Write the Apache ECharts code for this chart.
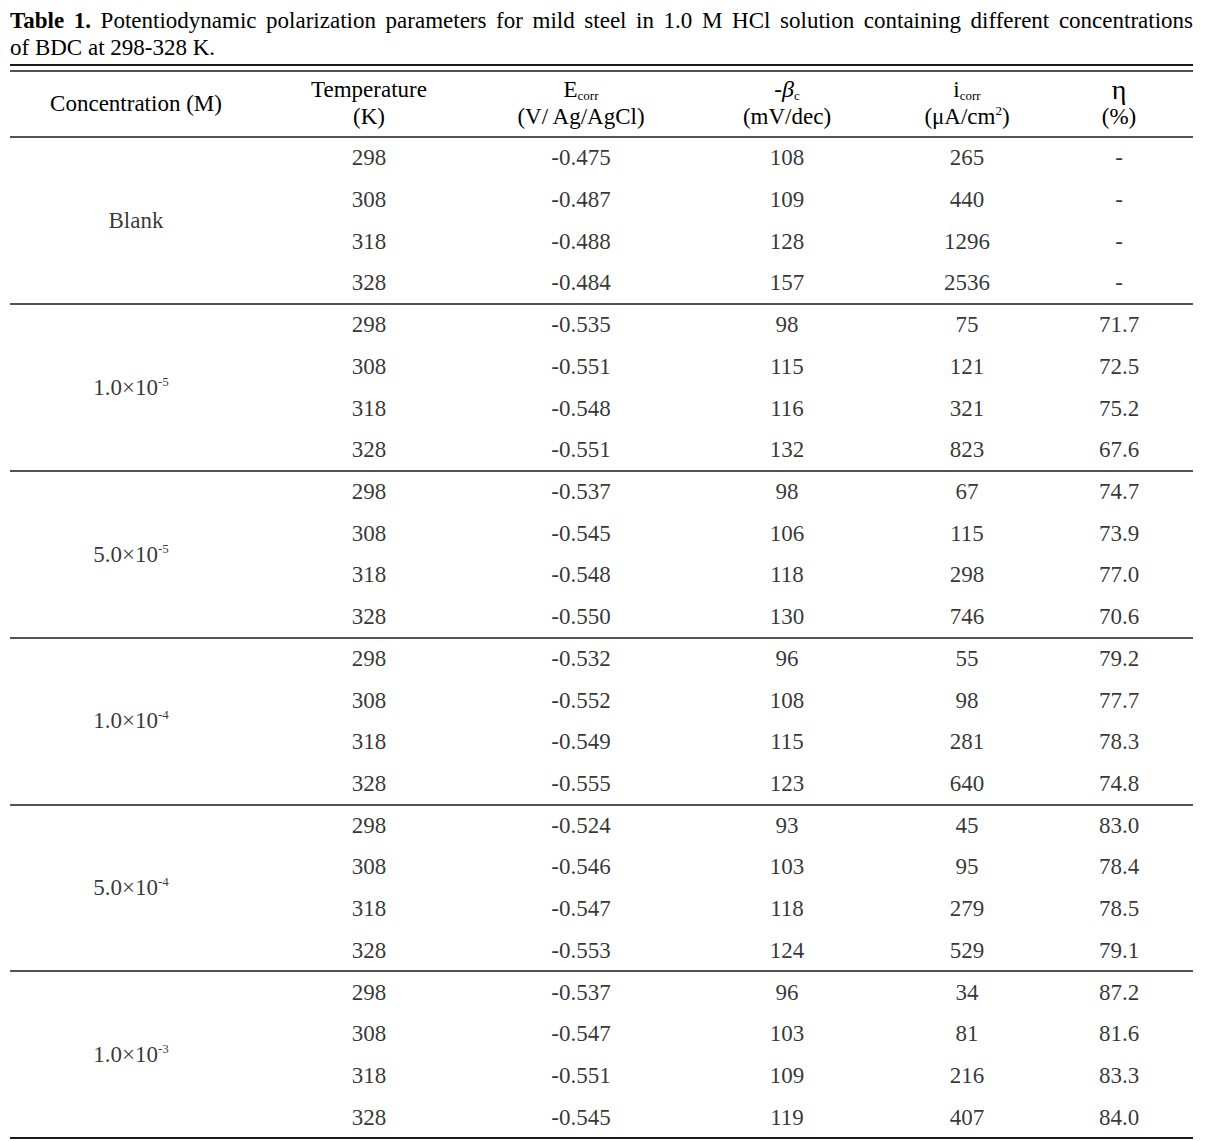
<!DOCTYPE html>
<html><head><meta charset="utf-8">
<script src="https://cdn.jsdelivr.net/npm/echarts@6/dist/echarts.min.js"></script>
<style>html,body{margin:0;padding:0;background:#fff}#c{width:1211px;height:1141px}</style>
</head><body><div id="c"></div>
<script>
// ---- data ----
const concentrations = ['Blank', '1.0×10^-5', '5.0×10^-5', '1.0×10^-4', '5.0×10^-4', '1.0×10^-3'];
const temperatures = [298, 308, 318, 328];
const ecorr = [
  [-0.475, -0.487, -0.488, -0.484],
  [-0.535, -0.551, -0.548, -0.551],
  [-0.537, -0.545, -0.548, -0.550],
  [-0.532, -0.552, -0.549, -0.555],
  [-0.524, -0.546, -0.547, -0.553],
  [-0.537, -0.547, -0.551, -0.545]
];
const betaC = [
  [108, 109, 128, 157],
  [98, 115, 116, 132],
  [98, 106, 118, 130],
  [96, 108, 115, 123],
  [93, 103, 118, 124],
  [96, 103, 109, 119]
];
const icorr = [
  [265, 440, 1296, 2536],
  [75, 121, 321, 823],
  [67, 115, 298, 746],
  [55, 98, 281, 640],
  [45, 95, 279, 529],
  [34, 81, 216, 407]
];
const eta = [
  [null, null, null, null],
  [71.7, 72.5, 75.2, 67.6],
  [74.7, 73.9, 77.0, 70.6],
  [79.2, 77.7, 78.3, 74.8],
  [83.0, 78.4, 78.5, 79.1],
  [87.2, 81.6, 83.3, 84.0]
];
const titleBold = 'Table 1.';
const titleLine1 = 'Potentiodynamic polarization parameters for mild steel in 1.0 M HCl solution containing different concentrations';
const titleLine2 = 'of BDC at 298-328 K.';

// ---- layout ----
const FONT = "'Liberation Serif', 'Times New Roman', serif";
const FS = 23;
const COL_X = [136, 369, 581, 787, 967, 1119];
const X0 = 10, X1 = 1193;
const INK = '#000';
const RULE = '#1a1a1a';

function concRich(s) {
  if (s.indexOf('^') < 0) return s;
  const p = s.split('^');
  return p[0] + '{sup|' + p[1] + '}';
}

const nG = concentrations.length, nT = temperatures.length;
function colData(fn) {
  const d = [];
  for (let g = 0; g < nG; g++) for (let t = 0; t < nT; t++) d.push(fn(g, t, g * nT + t));
  return d;
}

const cols = [
  concentrations.map((c, g) => [COL_X[0] - (c.indexOf('^') >= 0 ? 5 : 0), g * nT + (nT - 1) / 2, concRich(c)]),
  colData((g, t, r) => [COL_X[1], r, String(temperatures[t])]),
  colData((g, t, r) => [COL_X[2], r, ecorr[g][t].toFixed(3)]),
  colData((g, t, r) => [COL_X[3], r, String(betaC[g][t])]),
  colData((g, t, r) => [COL_X[4], r, String(icorr[g][t])]),
  colData((g, t, r) => [COL_X[5], r, eta[g][t] == null ? '-' : eta[g][t].toFixed(1)])
];

const richStyles = {
  sup: { fontSize: 13, lineHeight: 13, verticalAlign: 'top', fontFamily: FONT, color: INK },
  sub: { fontSize: 13, lineHeight: 13, verticalAlign: 'bottom', fontFamily: FONT, color: INK },
  it: { fontStyle: 'italic', fontSize: 24, lineHeight: 25, fontFamily: FONT, color: INK },
  b: { fontWeight: 'bold', fontSize: FS, lineHeight: 25, fontFamily: FONT, color: INK },
  big: { fontSize: 28, lineHeight: 25, fontFamily: FONT, color: INK }
};

const sepLines = [];
for (let g = 1; g <= nG; g++) sepLines.push({ yAxis: g * nT - 0.5, lineStyle: { width: g === nG ? 2 : 1.5 } });

const series = cols.map((data, i) => ({
  type: 'scatter',
  data: data,
  symbolSize: 1,
  itemStyle: { color: 'rgba(0,0,0,0)' },
  silent: true,
  label: {
    show: true,
    position: 'inside',
    formatter: p => p.value[2],
    fontFamily: FONT,
    fontSize: FS,
    lineHeight: 25,
    color: INK,
    rich: richStyles
  },
  markLine: i === 1 ? {
    silent: true,
    symbol: ['none', 'none'],
    label: { show: false },
    lineStyle: { color: RULE, type: 'solid', width: 1.5 },
    data: sepLines
  } : undefined
}));

function txt(x, y, text, align, bold) {
  return {
    type: 'text', x: x, y: y, silent: true,
    style: {
      text: text, align: align || 'center', verticalAlign: 'middle',
      fontSize: FS, fontFamily: FONT, fontWeight: bold ? 'bold' : 'normal', lineHeight: 25,
      fill: INK, rich: richStyles
    }
  };
}
function hline(y, w) {
  return { type: 'line', silent: true, shape: { x1: X0, y1: y, x2: X1, y2: y }, style: { stroke: RULE, lineWidth: w } };
}

// justified first title line: measure words, spread across full table width
const measureCtx = document.createElement('canvas').getContext('2d');
function wordWidth(w, bold) {
  measureCtx.font = (bold ? 'bold ' : '') + FS + 'px ' + FONT;
  return measureCtx.measureText(w).width;
}
const titleWords = titleBold.split(' ').map(w => ({ w: w, b: true }))
  .concat(titleLine1.split(' ').map(w => ({ w: w, b: false })));
const widths = titleWords.map(o => wordWidth(o.w, o.b));
const totalW = widths.reduce((a, b) => a + b, 0);
const gap = (X1 - X0 - totalW) / (titleWords.length - 1);
const titleGraphics = [];
let cx = X0;
titleWords.forEach((o, i) => {
  titleGraphics.push(txt(cx, 20, o.w, 'left', o.b));
  cx += widths[i] + gap;
});

const graphic = titleGraphics.concat([
  txt(X0, 47, titleLine2, 'left'),
  hline(65, 2), hline(71, 1.5), hline(137, 1.5),
  txt(COL_X[0], 103, 'Concentration (M)'),
  txt(COL_X[1], 89, 'Temperature'),
  txt(COL_X[1], 116, '(K)'),
  txt(COL_X[2], 89, 'E{sub|corr}'),
  txt(COL_X[2], 116, '(V/ Ag/AgCl)'),
  txt(COL_X[3], 89, '-{it|β}{sub|c}'),
  txt(COL_X[3], 116, '(mV/dec)'),
  txt(COL_X[4], 89, 'i{sub|corr}'),
  txt(COL_X[4], 116, '(μA/cm{sup|2})'),
  txt(COL_X[5], 89, '{big|η}'),
  txt(COL_X[5], 116, '(%)')
]);

const chart = echarts.init(document.getElementById('c'), null, { renderer: 'svg' });
chart.setOption({
  backgroundColor: '#fff',
  animation: false,
  grid: { left: X0, right: 1211 - X1, top: 137, bottom: 3 },
  xAxis: { type: 'value', min: X0, max: X1, show: false },
  yAxis: { type: 'value', min: -0.5, max: nG * nT - 0.5, inverse: true, show: false },
  series: series,
  graphic: graphic
});
</script></body></html>
